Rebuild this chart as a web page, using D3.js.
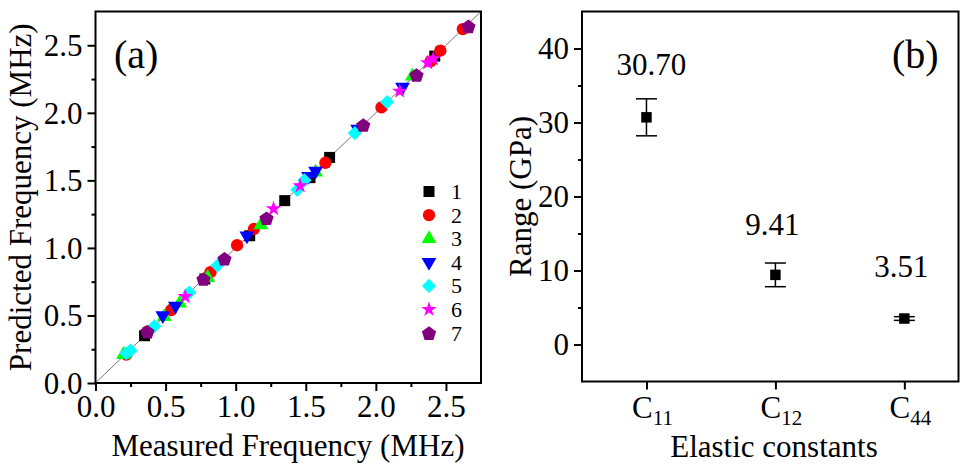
<!DOCTYPE html>
<html><head><meta charset="utf-8">
<script src="https://cdn.jsdelivr.net/npm/d3@7"></script>
<style>
html,body{margin:0;padding:0;background:#fff;}
svg{display:block;font-family:"Liberation Serif","Times New Roman",serif;}
</style></head>
<body><svg id="c" width="961" height="464"></svg>
<script>
// ---------- DATA ----------
// panel (a): [measured, predicted] in MHz for 7 sets
const seriesNames = ["1","2","3","4","5","6","7"];
const seriesColors = ["#000000","#ff0000","#00ff00","#0000ff","#00ffff","#ff00ff","#800080"];
const s1 = [[0.35,0.35],[0.78,0.77],[1.10,1.09],[1.35,1.35],[1.53,1.52],[1.67,1.67],[2.42,2.42]];
const s2 = [[0.22,0.21],[0.37,0.38],[0.54,0.54],[0.82,0.82],[1.01,1.02],[1.13,1.14],[1.64,1.63],[2.04,2.04],[2.39,2.38],[2.46,2.46],[2.62,2.62]];
const s3 = [[0.20,0.21],[0.49,0.49],[0.60,0.59],[0.80,0.78],[1.18,1.17],[1.57,1.56],[2.26,2.27]];
const s4 = [[0.48,0.50],[0.57,0.57],[1.08,1.09],[1.52,1.53],[1.57,1.57],[1.87,1.88],[2.19,2.19]];
const s5 = [[0.22,0.22],[0.25,0.24],[0.42,0.42],[0.67,0.67],[0.87,0.87],[1.44,1.43],[1.49,1.50],[1.85,1.85],[2.08,2.08]];
const s6 = [[0.64,0.64],[1.27,1.29],[1.46,1.46],[2.17,2.16],[2.37,2.37],[2.41,2.40]];
const s7 = [[0.37,0.38],[0.77,0.77],[0.92,0.92],[1.22,1.22],[1.91,1.91],[2.29,2.28],[2.66,2.64]];
const seriesData = [s1,s2,s3,s4,s5,s6,s7];
const freqTicks = [0,0.5,1.0,1.5,2.0,2.5];

// panel (b)
const constNames = ["11","12","44"];
const rangeValues = [30.70, 9.41, 3.51];
const rangeErrors = [2.5, 1.6, 0.25];
const rangeLabels = ["30.70","9.41","3.51"];
const rangeTicks = [0,10,20,30,40];

// ---------- LAYOUT ----------
const svg = d3.select("#c");
const F = "Liberation Serif";
const FS = 31;

function pentagon(r){
  const pts = d3.range(5).map(i=>{const a=-Math.PI/2+i*2*Math.PI/5;return [r*Math.cos(a),r*Math.sin(a)+r*0.1];});
  return "M"+pts.map(p=>p.join(",")).join("L")+"Z";
}
const symbolPath = [
  ()=>d3.symbol(d3.symbolSquare,121)(),
  ()=>d3.symbol(d3.symbolCircle,120)(),
  ()=>d3.symbol(d3.symbolTriangle,95)(),
  ()=>d3.symbol(d3.symbolTriangle,95)(),
  ()=>d3.symbol(d3.symbolSquare,100)(),
  ()=>d3.symbol(d3.symbolStar,75)(),
  ()=>pentagon(7.5)
];
const symbolRot = [0,0,0,180,45,0,0];

// ----- Panel (a) -----
const ax = {l:95.5, r:481, t:11.5, b:383};
const xA = d3.scaleLinear().domain([0,2.75]).range([ax.l,ax.r]);
const yA = d3.scaleLinear().domain([0,2.75]).range([ax.b,ax.t]);
const gA = svg.append("g");

gA.append("line").attr("x1",xA(0)).attr("y1",yA(0)).attr("x2",xA(2.75)).attr("y2",yA(2.75))
  .attr("stroke","#777").attr("stroke-width",1);

seriesData.forEach((ser,i)=>{
  gA.append("g").selectAll("path").data(ser).join("path")
    .attr("d",symbolPath[i]())
    .attr("transform",d=>`translate(${xA(d[0])},${yA(d[1])}) rotate(${symbolRot[i]})`)
    .attr("fill",seriesColors[i]);
});

gA.append("rect").attr("x",ax.l).attr("y",ax.t).attr("width",ax.r-ax.l).attr("height",ax.b-ax.t)
  .attr("fill","none").attr("stroke","#000").attr("stroke-width",2);

const minorA = d3.range(0.25,2.75,0.5);
const xAxA = gA.append("g").attr("transform",`translate(0,${ax.b})`)
  .call(d3.axisBottom(xA).tickValues(freqTicks).tickFormat(d3.format(".1f")).tickSize(8).tickPadding(4));
const yAxA = gA.append("g").attr("transform",`translate(${ax.l},0)`)
  .call(d3.axisLeft(yA).tickValues(freqTicks).tickFormat(d3.format(".1f")).tickSize(8).tickPadding(4));
gA.append("g").attr("transform",`translate(0,${ax.b})`)
  .call(d3.axisBottom(xA).tickValues(minorA).tickFormat("").tickSize(4));
gA.append("g").attr("transform",`translate(${ax.l},0)`)
  .call(d3.axisLeft(yA).tickValues(minorA).tickFormat("").tickSize(4));
gA.selectAll(".domain").remove();
gA.selectAll(".tick line").attr("stroke","#000").attr("stroke-width",2);
gA.selectAll(".tick text").attr("font-family",F).attr("font-size",FS).attr("fill","#000");
xAxA.selectAll(".tick text").attr("dy","0.72em");
yAxA.selectAll(".tick text").attr("dy","0.33em").attr("x",-13);

gA.append("text").attr("x",288).attr("y",456).attr("text-anchor","middle")
  .attr("font-family",F).attr("font-size",FS).text("Measured Frequency (MHz)");
gA.append("text").attr("transform",`translate(31,${(ax.t+ax.b)/2}) rotate(-90)`).attr("text-anchor","middle")
  .attr("font-family",F).attr("font-size",FS).text("Predicted Frequency (MHz)");
gA.append("text").attr("x",114).attr("y",68).attr("font-family",F).attr("font-size",40).text("(a)");

const leg = gA.append("g").attr("transform","translate(429,191.5)");
seriesNames.forEach((n,i)=>{
  const g = leg.append("g").attr("transform",`translate(0,${i*23.6})`);
  g.append("path").attr("d",symbolPath[i]()).attr("transform",`rotate(${symbolRot[i]})`).attr("fill",seriesColors[i]);
  g.append("text").attr("x",22).attr("y",7.5).attr("font-family",F).attr("font-size",22).text(n);
});

// ----- Panel (b) -----
const bx = {l:582, r:958.5, t:11.5, b:381.5};
const xB = d3.scaleLinear().domain([0.5,3.42]).range([bx.l,bx.r]);
const yB = d3.scaleLinear().domain([-5,45]).range([bx.b,bx.t]);
const gB = svg.append("g");
const catPos = constNames.map((d,i)=>i+1);

gB.append("rect").attr("x",bx.l).attr("y",bx.t).attr("width",bx.r-bx.l).attr("height",bx.b-bx.t)
  .attr("fill","none").attr("stroke","#000").attr("stroke-width",2);

const yAxB = gB.append("g").attr("transform",`translate(${bx.l},0)`)
  .call(d3.axisLeft(yB).tickValues(rangeTicks).tickSize(8).tickPadding(4));
gB.append("g").attr("transform",`translate(${bx.l},0)`)
  .call(d3.axisLeft(yB).tickValues([5,15,25,35]).tickFormat("").tickSize(4));
gB.append("g").attr("transform",`translate(0,${bx.b})`)
  .call(d3.axisBottom(xB).tickValues(catPos).tickFormat("").tickSize(8));
gB.selectAll(".domain").remove();
gB.selectAll(".tick line").attr("stroke","#000").attr("stroke-width",2);
yAxB.selectAll(".tick text").attr("font-family",F).attr("font-size",FS).attr("fill","#000").attr("dy","0.33em").attr("x",-13);

constNames.forEach((n,i)=>{
  const t = gB.append("text").attr("x",xB(catPos[i])+6).attr("y",418).attr("text-anchor","middle")
    .attr("font-family",F).attr("font-size",FS);
  t.append("tspan").text("C");
  t.append("tspan").attr("font-size",21).attr("dy",7).text(n);
});

const eb = gB.append("g");
eb.selectAll("line.v").data(rangeValues).join("line")
  .attr("x1",(d,i)=>xB(catPos[i])).attr("x2",(d,i)=>xB(catPos[i]))
  .attr("y1",(d,i)=>yB(d+rangeErrors[i])).attr("y2",(d,i)=>yB(d-rangeErrors[i]))
  .attr("stroke","#000").attr("stroke-width",1.5);
[1,-1].forEach(s=>{
  eb.selectAll("line.c"+s).data(rangeValues).join("line")
    .attr("x1",(d,i)=>xB(catPos[i])-10.5).attr("x2",(d,i)=>xB(catPos[i])+10.5)
    .attr("y1",(d,i)=>yB(d+s*rangeErrors[i])).attr("y2",(d,i)=>yB(d+s*rangeErrors[i]))
    .attr("stroke","#000").attr("stroke-width",1.5);
});
gB.selectAll("path.pt").data(rangeValues).join("path")
  .attr("d",d3.symbol(d3.symbolSquare,110)())
  .attr("transform",(d,i)=>`translate(${xB(catPos[i])},${yB(d)})`).attr("fill","#000");

gB.selectAll("text.val").data(rangeLabels).join("text")
  .attr("x",(d,i)=>xB(catPos[i])+[5,-3,-3][i])
  .attr("y",(d,i)=>yB(rangeValues[i]+rangeErrors[i])-[24,28,40][i])
  .attr("text-anchor","middle").attr("font-family",F).attr("font-size",FS).text(d=>d);

gB.append("text").attr("x",774).attr("y",457).attr("text-anchor","middle")
  .attr("font-family",F).attr("font-size",FS).text("Elastic constants");
gB.append("text").attr("transform",`translate(531,${(bx.t+bx.b)/2}) rotate(-90)`).attr("text-anchor","middle")
  .attr("font-family",F).attr("font-size",FS).text("Range (GPa)");
gB.append("text").attr("x",892).attr("y",68).attr("font-family",F).attr("font-size",40).text("(b)");
</script></body></html>
